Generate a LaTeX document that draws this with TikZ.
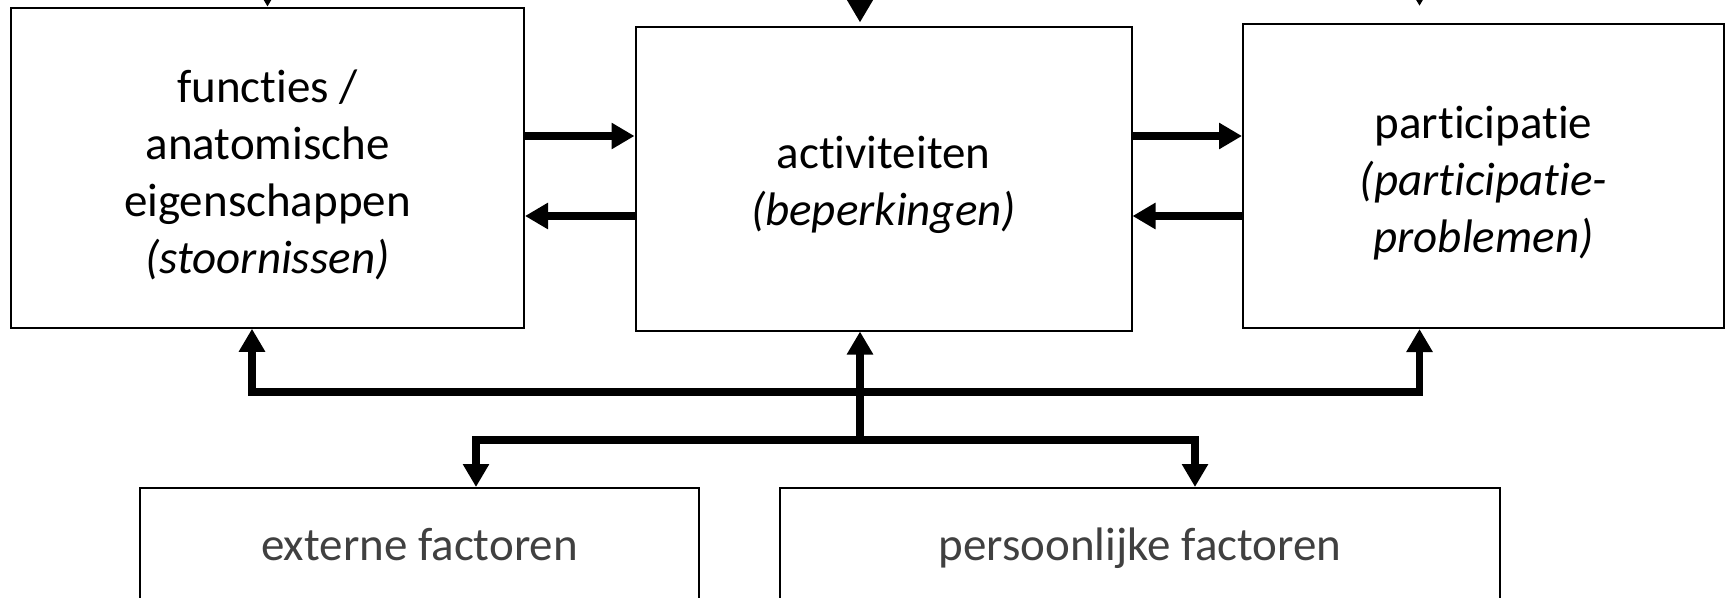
\documentclass[tikz,border=0pt]{standalone}
\usepackage{fontspec}
\setmainfont{Carlito}[Ligatures=NoCommon]
\usepackage{xcolor}
\usepackage{tikz}
\usetikzlibrary{arrows.meta,positioning}
\newcommand{\firstline}{\rule{0pt}{46pt}}

\begin{document}
\begin{tikzpicture}[x=1pt,y=-1pt,
box/.style={draw,rectangle,line width=2pt,inner sep=0pt,align=center,
    font=\fontsize{47}{57}\selectfont},
low/.style={box,text=black!75,text height=40pt,text depth=10pt},
arr/.style={line width=7.5pt,-{Triangle[length=23pt,width=25pt]}},
arrs/.style={line width=7.5pt,{Triangle[length=23pt,width=25pt]}-{Triangle[length=23pt,width=25pt]}}]
\useasboundingbox (0,0) rectangle (1729,597);
\node (func) [box,minimum width=513pt,minimum height=320pt] at (267.5,167.75)
    {\firstline functies /\\ anatomische\\ eigenschappen\\ \textit{(stoornissen)}};
\node (act) [box,minimum width=496pt,minimum height=304pt] at (883.5,178.5)
    {\firstline activiteiten\\ \textit{(beperkingen)}};
\node (part) [box,minimum width=481pt,minimum height=304pt] at (1483.5,176)
    {\firstline participatie\\ \textit{(participatie-}\\ \textit{problemen)}};
\node (ext) [low,minimum width=559pt,minimum height=114pt] at (419.5,545)
    {externe factoren};
\node (pers) [low,minimum width=720pt,minimum height=114pt] at (1140,545)
    {persoonlijke factoren};
\coordinate (top) at (0,-60);
\coordinate (r1) at (0,136);
\coordinate (l1) at (0,216);
\coordinate (bus1) at (0,392);
\coordinate (bus2) at (0,440);
\coordinate (xl) at (252,0);
\coordinate (xm) at (860,0);
\coordinate (xr) at (1419.5,0);
\coordinate (xe) at (476,0);
\coordinate (xp) at (1195,0);
\draw[arr] (func.north |- top) -- (func.north);
\draw[arr,shorten >=3pt] (xm |- top) -- (act.north -| xm);
\draw[arr,shorten >=17pt] (xr |- top) -- (part.north -| xr);
\draw[arr] (func.east |- r1) -- (act.west |- r1);
\draw[arr] (act.west |- l1) -- (func.east |- l1);
\draw[arr] (act.east |- r1) -- (part.west |- r1);
\draw[arr] (part.west |- l1) -- (act.east |- l1);
\draw[arrs] (func.south -| xl) -- (xl |- bus1) -- (xr |- bus1) -- (part.south -| xr);
\draw[arr] (xm |- bus2) -- (act.south -| xm);
\draw[arrs] (ext.north -| xe) -- (xe |- bus2) -- (xp |- bus2) -- (pers.north -| xp);
\end{tikzpicture}
\end{document}
